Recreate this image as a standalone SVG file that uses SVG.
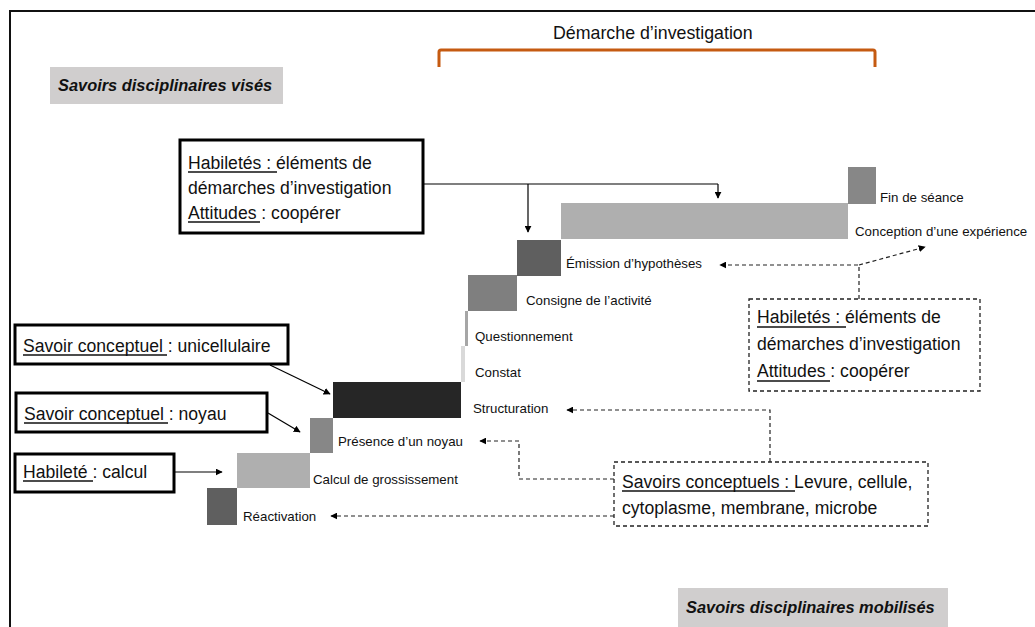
<svg xmlns="http://www.w3.org/2000/svg" width="1035" height="627" viewBox="0 0 1035 627">
<defs>
<style>
.t{font-family:"Liberation Sans",Arial,sans-serif;fill:#111;}
.lg{font-size:17.6px;}
.sm{font-size:13.3px;}
.hd{font-size:16.4px;font-weight:bold;font-style:italic;}
.box{fill:#fff;stroke:#000;stroke-width:3;}
.dbox{fill:#fff;stroke:#222;stroke-width:1.3;stroke-dasharray:4 3;}
.ul{stroke:#111;stroke-width:1.5;}
.con{fill:none;stroke:#000;stroke-width:1.2;}
.dcon{fill:none;stroke:#222;stroke-width:1.2;stroke-dasharray:4 3;}
</style>
<marker id="ah" viewBox="0 0 10 10" refX="9" refY="5" markerWidth="7" markerHeight="7" markerUnits="userSpaceOnUse" orient="auto">
<path d="M0,0 L10,5 L0,10 z" fill="#000"/>
</marker>
</defs>
<rect x="0" y="0" width="1035" height="627" fill="#fff"/>
<path d="M10,630 L10,11 L1040,11" fill="none" stroke="#111" stroke-width="2"/>

<g id="demarche">
<path d="M439,67 L439,52 Q439,50 441,50 L873,50 Q875,50 875,52 L875,67" fill="none" stroke="#c55a11" stroke-width="3"/>
<text class="t" x="553" y="39" font-size="17.8px">Démarche d’investigation</text>
</g>

<g id="label-vises">
<rect x="50" y="67" width="233" height="37" fill="#d0cece"/>
<text class="t hd" x="58" y="91">Savoirs disciplinaires visés</text>
</g>

<g id="label-mobilises">
<rect x="678" y="588" width="270" height="45" fill="#d0cece"/>
<text class="t hd" x="686" y="613">Savoirs disciplinaires mobilisés</text>
</g>

<g id="steps">
<rect x="207" y="488" width="30" height="37" fill="#5f5f5f"/>
<rect x="237" y="453" width="73" height="35" fill="#afafaf"/>
<rect x="310" y="418" width="23" height="35" fill="#878787"/>
<rect x="333" y="382" width="128" height="36" fill="#262626"/>
<rect x="461" y="346" width="4" height="36" fill="#d9d9d9"/>
<rect x="465" y="311" width="3" height="35" fill="#a6a6a6"/>
<rect x="468" y="275" width="49" height="36" fill="#7f7f7f"/>
<rect x="517" y="240" width="44" height="36" fill="#5f5f5f"/>
<rect x="561" y="203" width="287" height="36" fill="#afafaf"/>
<rect x="848" y="167" width="28" height="37" fill="#878787"/>
<text class="t sm" x="243" y="521">Réactivation</text>
<text class="t sm" x="313" y="484">Calcul de grossissement</text>
<text class="t sm" x="338" y="446">Présence d’un noyau</text>
<text class="t sm" x="473" y="413">Structuration</text>
<text class="t sm" x="475" y="377">Constat</text>
<text class="t sm" x="475" y="341">Questionnement</text>
<text class="t sm" x="526" y="305">Consigne de l’activité</text>
<text class="t sm" x="566" y="268">Émission d’hypothèses</text>
<text class="t sm" x="855" y="236">Conception d’une expérience</text>
<text class="t sm" x="880" y="202">Fin de séance</text>
</g>

<g id="box-habiletes-vises">
<rect class="box" x="180" y="140" width="243" height="93"/>
<text class="t lg" x="188" y="169">Habiletés : éléments de</text>
<text class="t lg" x="188" y="194">démarches d’investigation</text>
<text class="t lg" x="188" y="219">Attitudes : coopérer</text>
<line class="ul" x1="188" y1="172" x2="277" y2="172"/>
<line class="ul" x1="188" y1="222" x2="260" y2="222"/>
</g>

<g id="box-unicellulaire">
<rect class="box" x="15" y="325" width="273" height="39"/>
<text class="t lg" x="23" y="352">Savoir conceptuel : unicellulaire</text>
<line class="ul" x1="23" y1="355" x2="167" y2="355"/>
</g>

<g id="box-noyau">
<rect class="box" x="16" y="393" width="251" height="39"/>
<text class="t lg" x="24" y="420">Savoir conceptuel : noyau</text>
<line class="ul" x1="24" y1="423" x2="168" y2="423"/>
</g>

<g id="box-calcul">
<rect class="box" x="15" y="454" width="159" height="38"/>
<text class="t lg" x="23" y="478">Habileté : calcul</text>
<line class="ul" x1="23" y1="481" x2="93" y2="481"/>
</g>

<g id="box-habiletes-mobilises">
<rect class="dbox" x="749" y="299" width="231" height="92"/>
<text class="t lg" x="757" y="323">Habiletés : éléments de</text>
<text class="t lg" x="757" y="350">démarches d’investigation</text>
<text class="t lg" x="757" y="377">Attitudes : coopérer</text>
<line class="ul" x1="757" y1="327" x2="846" y2="327"/>
<line class="ul" x1="757" y1="381" x2="830" y2="381"/>
</g>

<g id="box-savoirs-conceptuels">
<rect class="dbox" x="614" y="462" width="314" height="64"/>
<text class="t lg" x="622" y="488">Savoirs conceptuels : Levure, cellule,</text>
<text class="t lg" x="622" y="514">cytoplasme, membrane, microbe</text>
<line class="ul" x1="622" y1="491" x2="795" y2="491"/>
</g>

<g id="connectors">
<path class="con" d="M423,184 L718,184"/>
<path class="con" d="M528,184 L528,232" marker-end="url(#ah)"/>
<path class="con" d="M718,184 L718,198" marker-end="url(#ah)"/>
<path class="con" d="M270,365 L330,394" marker-end="url(#ah)"/>
<path class="con" d="M268,413 L300,432" marker-end="url(#ah)"/>
<path class="con" d="M174,472 L222,472" marker-end="url(#ah)"/>
<path class="dcon" d="M859,299 L859,265 L720,265" marker-end="url(#ah)"/>
<path class="dcon" d="M859,265 L925,247" marker-end="url(#ah)"/>
<path class="dcon" d="M770,462 L770,410 L567,410" marker-end="url(#ah)"/>
<path class="dcon" d="M614,479 L519,479 L519,441 L480,441" marker-end="url(#ah)"/>
<path class="dcon" d="M614,516 L331,516" marker-end="url(#ah)"/>
</g>
</svg>
